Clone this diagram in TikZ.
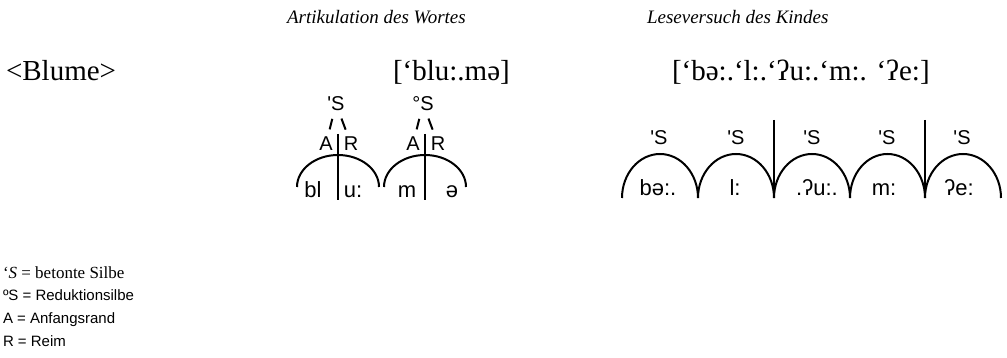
\documentclass[tikz,border=0pt]{standalone}
\usepackage{fontspec}
\setmainfont{Liberation Serif}
\setsansfont{Liberation Sans}
\newfontfamily\legserif{Liberation Serif}
\usetikzlibrary{positioning}

\begin{document}
\begin{tikzpicture}[
  x=1pt,y=-1pt,
  every node/.style={inner sep=0pt,outer sep=0pt},
  head/.style={font=\fontsize{19}{19}\selectfont\itshape,anchor=base west},
  word/.style={font=\fontsize{29}{29}\selectfont,anchor=base west},
  lab/.style={font=\sffamily\fontsize{20}{20}\selectfont},
  seg/.style={font=\sffamily\fontsize{22}{22}\selectfont,anchor=base},
  leg/.style={font=\sffamily\fontsize{15}{15}\selectfont,anchor=base west},
  link/.style={line width=2pt,shorten <=8pt,shorten >=8pt},
  bar/.style={line width=2pt},
  bow/.style={line width=2pt}
]
\useasboundingbox (0,0) rectangle (1007,358);

% headings and words
\node[head] (art) at (287,24) {Artikulation des Wortes};
\node[head] (les) at (647,24) {Leseversuch des Kindes};
\node[word] (ortho) at (6,81) {<Blume>};
\node[word] (ipaart) at (393,81) {[‘blu:.mə]};
\node[word] (ipales) at (672,81) {[‘bə:.‘l:.‘ʔu:.‘m:. ‘ʔe:]};

% articulation: two syllables
\node[lab] (s1) at (336,104) {\textquotesingle S};
\node[lab] (s2) at (423,104) {°S};
\node[lab] (a1) at (326,144) {A};
\node[lab] (r1) at (351,144) {R};
\node[lab] (a2) at (413,144) {A};
\node[lab] (r2) at (438,144) {R};
\draw[link] (s1) -- (a1);
\draw[link] (s1) -- (r1);
\draw[link] (s2) -- (a2);
\draw[link] (s2) -- (r2);
\coordinate (t1) at (338,134);
\coordinate (u1) at (338,200);
\coordinate (t2) at (425,134);
\coordinate (u2) at (425,200);
\draw[bar] (t1) -- (u1);
\draw[bar] (t2) -- (u2);
\coordinate (e1) at (297,187);
\coordinate (e2) at (384,187);
\draw[bow] (e1) arc[start angle=180,end angle=0,x radius=41pt,y radius=32pt];
\draw[bow] (e2) arc[start angle=180,end angle=0,x radius=41pt,y radius=32pt];
\node[seg] (bl) at (313,198) {bl};
\node[seg] (uu) at (353,198) {u:};
\node[seg] (mm) at (407,198) {m};
\node[seg] (schwa) at (452,198) {ə};

% reading attempt: five syllables
\node[lab] (k1) at (659,138) {\textquotesingle S};
\node[lab] (k2) at (736,138) {\textquotesingle S};
\node[lab] (k3) at (812,138) {\textquotesingle S};
\node[lab] (k4) at (887,138) {\textquotesingle S};
\node[lab] (k5) at (962,138) {\textquotesingle S};
\coordinate (c0) at (622,198);
\coordinate (c1) at (698,198);
\coordinate (c2) at (774,198);
\coordinate (c3) at (850,198);
\coordinate (c4) at (925,198);
\draw[bow] (c0) arc[start angle=180,end angle=0,x radius=38pt,y radius=44pt];
\draw[bow] (c1) arc[start angle=180,end angle=0,x radius=38pt,y radius=44pt];
\draw[bow] (c2) arc[start angle=180,end angle=0,x radius=38pt,y radius=44pt];
\draw[bow] (c3) arc[start angle=180,end angle=0,x radius=37.5pt,y radius=44pt];
\draw[bow] (c4) arc[start angle=180,end angle=0,x radius=38pt,y radius=44pt];
\coordinate (w1) at (774,120);
\coordinate (w2) at (925,120);
\draw[bar] (w1) -- (c2);
\draw[bar] (w2) -- (c4);
\node[seg] (p1) at (658,196) {bə:.};
\node[seg] (p2) at (735,196) {l:};
\node[seg] (p3) at (817,196) {.ʔu:.};
\node[seg] (p4) at (884,196) {m:};
\node[seg] (p5) at (959,196) {ʔe:};

% legend
\node[leg,font=\legserif\fontsize{17}{17}\selectfont] (l1) at (3,278) {‘\textit{S} = betonte Silbe};
\node[leg] (l2) at (3,300) {ºS = Reduktionsilbe};
\node[leg] (l3) at (3,323) {A = Anfangsrand};
\node[leg] (l4) at (3,346) {R = Reim};
\end{tikzpicture}
\end{document}
